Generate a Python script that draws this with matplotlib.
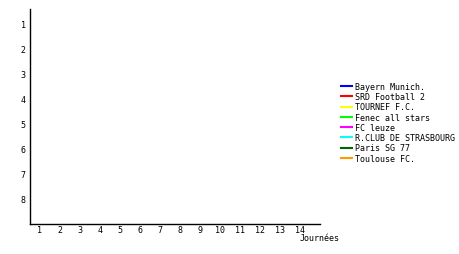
import matplotlib
matplotlib.use("Agg")
import matplotlib.pyplot as plt

teams = ["Bayern Munich.", "SRD Football 2", "TOURNEF F.C.", "Fenec all stars",
         "FC leuze", "R.CLUB DE STRASBOURG", "Paris SG 77", "Toulouse FC."]
colors = ["#0000ff", "#ff0000", "#ffff00", "#00ff00",
          "#ff00ff", "#00ffff", "#006600", "#ff9900"]
journees = list(range(1, 15))
ranks = list(range(1, 9))
# no match played yet: every series is empty
positions = [[] for _ in teams]

plt.rcParams['font.family'] = ['DejaVu Sans Mono']
fs = 6

fig = plt.figure(figsize=(4.6, 2.55), dpi=100)
ax = fig.add_axes([30/460, 30/255, 290/460, 215/255])

for team, col, pos in zip(teams, colors, positions):
    ax.plot(journees[:len(pos)], pos, color=col, lw=1.5, label=team)

ax.set_xlim(0.5, 15)
ax.set_ylim(9, 0.4)
ax.set_xticks(journees)
ax.set_yticks(ranks)
ax.tick_params(axis="x", length=0, labelsize=fs, pad=1)
ax.tick_params(axis="y", length=0, labelsize=fs, pad=3)
for s in ["top", "right"]:
    ax.spines[s].set_visible(False)
for s in ["left", "bottom"]:
    ax.spines[s].set_linewidth(1)

fig.text(300/460, 1 - 239/255, "Journées", fontsize=fs, va="center", ha="left")

fig.legend(loc="upper left", bbox_to_anchor=(341/460, 1 - 83/255), frameon=False,
           fontsize=fs, handlelength=1.3, handletextpad=0.35, labelspacing=0.15,
           borderpad=0, borderaxespad=0)

fig.savefig("out.png", dpi=100)
